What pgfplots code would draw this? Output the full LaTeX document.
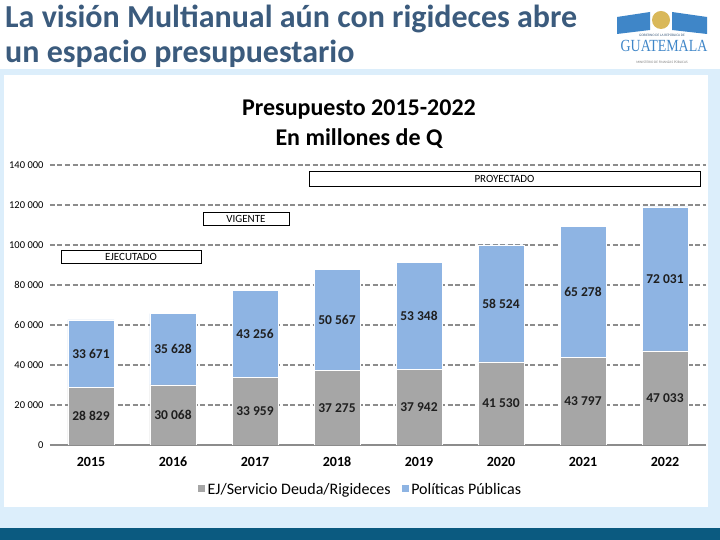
\documentclass[border=0pt]{standalone}
\usepackage{pgfplots}
\pgfplotsset{compat=1.18}
\usepackage{pgfplotstable}
\usepackage{fontspec}
\setmainfont{Carlito}
\newfontfamily\serifg{Liberation Serif}
\definecolor{barblue}{HTML}{8EB4E3}
\definecolor{bargray}{HTML}{A6A6A6}
\definecolor{titleblue}{HTML}{3B5B7D}
\definecolor{slidebg}{HTML}{DCEEFB}
\definecolor{stripe}{HTML}{0B5A80}
\definecolor{gridgray}{HTML}{8C8C8C}
\definecolor{logoblue}{HTML}{3F86C8}
\definecolor{logogold}{HTML}{D9B85A}

\pgfplotstableread{
x year a b la lb
0 2015 28829 33671 28\space829 33\space671
1 2016 30068 35628 30\space068 35\space628
2 2017 33959 43256 33\space959 43\space256
3 2018 37275 50567 37\space275 50\space567
4 2019 37942 53348 37\space942 53\space348
5 2020 41530 58524 41\space530 58\space524
6 2021 43797 65278 43\space797 65\space278
7 2022 47033 72031 47\space033 72\space031
}\budget

\begin{document}
\begin{tikzpicture}[x=1pt,y=1pt]
% canvas 720 x 540 (y up)
\fill[white] (0,0) rectangle (720,540);
\fill[slidebg] (0,12) rectangle (720,471);
\fill[stripe] (0,0) rectangle (720,12);
\fill[white] (4,33) rectangle (708,465);

% slide title
\node[anchor=base west, inner sep=0, text=titleblue, font=\fontsize{32}{38}\selectfont\bfseries] at (5,512) {La visión Multianual aún con rigideces abre};
\node[anchor=base west, inner sep=0, text=titleblue, font=\fontsize{32}{38}\selectfont\bfseries] at (5,477) {un espacio presupuestario};

% logo (approximation)
\fill[logoblue] (617,523) -- (650,528) -- (650,510) -- (617,506) -- cycle;
\fill[logoblue] (672,528) -- (707,523) -- (707,506) -- (672,510) -- cycle;
\fill[logogold] (661,520) circle (9);
\node[font=\fontsize{3.5}{4}\selectfont, text=titleblue] at (662,505) {GOBIERNO DE LA REPÚBLICA DE};
\node[font=\serifg\fontsize{17}{18}\selectfont, text=logoblue, inner sep=0] at (664,494) {\scalebox{0.82}[1]{GUATEMALA}};
\node[font=\fontsize{3.5}{4}\selectfont, text=gray] at (662,478) {MINISTERIO DE FINANZAS PÚBLICAS};

% chart title
\node[anchor=base, inner sep=0, font=\fontsize{24}{28}\selectfont\bfseries] at (359,424) {Presupuesto 2015-2022};
\node[anchor=base, inner sep=0, font=\fontsize{24}{28}\selectfont\bfseries] at (359,394) {En millones de Q};

\begin{axis}[
  at={(50pt,95pt)}, anchor=south west, scale only axis,
  width=656pt, height=280pt,
  ybar stacked, bar width=46pt,
  xmin=-0.5, xmax=7.5, ymin=0, ymax=140000,
  xtick={0,...,7},
  xticklabels={2015,2016,2017,2018,2019,2020,2021,2022},
  ytick={0,20000,40000,60000,80000,100000,120000,140000},
  yticklabels={0,20\space000,40\space000,60\space000,80\space000,100\space000,120\space000,140\space000},
  scaled y ticks=false,
  axis x line=bottom, axis y line=left,
  x axis line style={draw=gridgray, line width=1.6pt, -},
  y axis line style={draw=none},
  major tick length=0pt,
  ymajorgrids,
  grid style={gridgray, line width=1.3pt, dash pattern=on 5pt off 2.5pt},
  xticklabel style={font=\fontsize{14}{16}\selectfont\bfseries, text height=10pt, text depth=0pt, yshift=-8pt},
  yticklabel style={font=\fontsize{10.5}{12}\selectfont, xshift=-3pt},
  legend style={at={(0.4726,-0.16)}, anchor=center, draw=none, fill=none,
    legend columns=2, font=\fontsize{16}{18}\selectfont,
    /tikz/every even column/.append style={column sep=8pt}},
  legend image code/.code={\fill[#1] (0pt,-3pt) rectangle (8pt,5pt);},
]
\addplot[fill=bargray, draw=white, line width=0.7pt] table[x=x, y=a] {\budget};
\addlegendentry{EJ/Servicio Deuda/Rigideces}
\addplot[fill=barblue, draw=white, line width=0.7pt] table[x=x, y=b] {\budget};
\addlegendentry{Políticas Públicas}
\end{axis}

% value labels (centered in each segment)
\begin{axis}[
  at={(50pt,95pt)}, anchor=south west, scale only axis,
  width=656pt, height=280pt,
  xmin=-0.5, xmax=7.5, ymin=0, ymax=140000,
  hide axis, clip=false,
  nodes near coords, point meta=explicit symbolic,
  nodes near coords align={center},
  every node near coord/.append style={anchor=center, font=\fontsize{13.5}{15}\selectfont\bfseries, text=black!88},
]
\addplot[draw=none, mark=none] table[x=x, y expr=\thisrow{a}/2, meta=la] {\budget};
\addplot[draw=none, mark=none] table[x=x, y expr=\thisrow{a}+\thisrow{b}/2, meta=lb] {\budget};
\end{axis}

% period boxes
\draw[black, line width=0.8pt] (61,277) rectangle (201,290);
\node[font=\fontsize{11}{12}\selectfont] at (131,283.5) {EJECUTADO};
\draw[black, line width=0.8pt] (203,315) rectangle (289,328);
\node[font=\fontsize{11}{12}\selectfont] at (246,321.5) {VIGENTE};
\draw[black, line width=0.8pt] (309,354) rectangle (700,369);
\node[font=\fontsize{11}{12}\selectfont] at (504.5,361.5) {PROYECTADO};
\end{tikzpicture}
\end{document}
